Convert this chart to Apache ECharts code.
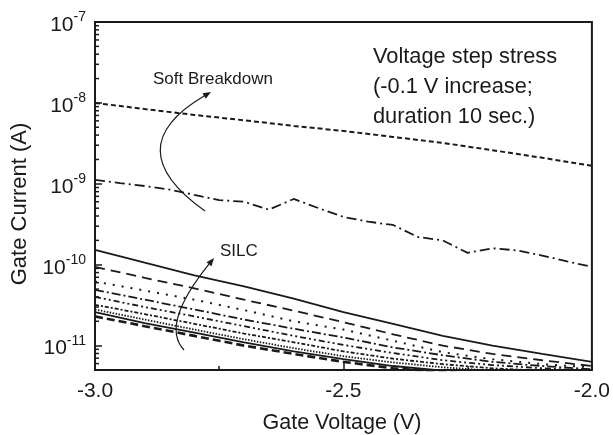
<!DOCTYPE html>
<html>
<head>
<meta charset="utf-8">
<script src="https://cdn.jsdelivr.net/npm/echarts@6/dist/echarts.min.js"></script>
<style>
  html, body { margin: 0; padding: 0; background: #fff; }
  #chart { width: 613px; height: 435px; }
</style>
</head>
<body>
<div id="chart"></div>
<script>
// Gate voltage grids (V)
const voltageCoarse = [-3.0, -2.9, -2.8, -2.7, -2.6, -2.5, -2.4, -2.3, -2.2, -2.1, -2.0];
const voltageFine = [-3.0, -2.95, -2.9, -2.85, -2.8, -2.75, -2.7, -2.65, -2.6, -2.55, -2.5,
                     -2.45, -2.4, -2.35, -2.3, -2.25, -2.2, -2.15, -2.1, -2.05, -2.0];

// Gate current (A) after soft breakdown
const sbdShortDash = [1.0e-8, 8.4e-9, 7.1e-9, 6.1e-9, 5.2e-9, 4.5e-9, 3.8e-9, 3.2e-9, 2.6e-9, 2.1e-9, 1.67e-9];
const sbdDashDot = [1.12e-9, 1.02e-9, 9.4e-10, 8.5e-10, 7.3e-10, 6.3e-10, 6.0e-10, 4.8e-10, 6.5e-10, 5.0e-10, 3.9e-10,
                    3.4e-10, 3.1e-10, 2.2e-10, 2.0e-10, 1.4e-10, 1.6e-10, 1.5e-10, 1.3e-10, 1.1e-10, 9.4e-11];

// Gate current (A) during the SILC stress steps
const silc1 = [1.53e-10, 1.06e-10, 7.4e-11, 5.4e-11, 3.8e-11, 2.6e-11, 1.86e-11, 1.32e-11, 1.0e-11, 7.9e-12, 6.3e-12];
const silc2 = [9.4e-11, 6.9e-11, 5.1e-11, 3.7e-11, 2.7e-11, 1.95e-11, 1.38e-11, 1.0e-11, 7.9e-12, 6.6e-12, 5.6e-12];
const silc3 = [6.2e-11, 4.8e-11, 3.7e-11, 2.75e-11, 2.0e-11, 1.58e-11, 1.15e-11, 8.3e-12, 6.8e-12, 5.9e-12, 5.4e-12];
const silc4 = [4.9e-11, 3.7e-11, 2.8e-11, 2.1e-11, 1.62e-11, 1.26e-11, 9.5e-12, 7.6e-12, 6.3e-12, 5.6e-12, 5.1e-12];
const silc5 = [4.0e-11, 3.0e-11, 2.3e-11, 1.74e-11, 1.32e-11, 1.02e-11, 8.1e-12, 6.6e-12, 5.75e-12, 5.25e-12, 4.9e-12];
const silc6 = [3.2e-11, 2.45e-11, 1.86e-11, 1.41e-11, 1.1e-11, 8.5e-12, 6.9e-12, 5.9e-12, 5.25e-12, 4.9e-12, 4.7e-12];
const silc7 = [2.8e-11, 2.1e-11, 1.58e-11, 1.2e-11, 9.3e-12, 7.4e-12, 6.2e-12, 5.4e-12, 4.9e-12, 4.7e-12, 4.5e-12];
const silc8 = [2.6e-11, 1.9e-11, 1.45e-11, 1.1e-11, 8.5e-12, 6.8e-12, 5.6e-12, 4.9e-12, 4.5e-12, 4.3e-12, 4.1e-12];
const silc9 = [2.3e-11, 1.74e-11, 1.32e-11, 1.0e-11, 7.9e-12, 6.3e-12, 5.25e-12, 4.7e-12, 4.3e-12, 4.1e-12, 3.9e-12];

// Minor tick positions on the log current axis (2..9 of each decade)
const minorTickValues = [6e-12, 7e-12, 8e-12, 9e-12];
[-11, -10, -9, -8].forEach(function (e) {
  for (let k = 2; k <= 9; k++) minorTickValues.push(k * Math.pow(10, e));
});

const INK = '#1a1a1a';
const FONT = 'Arial, "Liberation Sans", Helvetica, sans-serif';

function pairs(xs, ys) {
  return xs.map(function (x, i) { return [x, ys[i]]; });
}

function curve(xs, ys, dash, width) {
  return {
    type: 'line',
    data: pairs(xs, ys),
    showSymbol: false,
    symbol: 'none',
    silent: true,
    animation: false,
    clip: true,
    lineStyle: { color: INK, width: width || 1.6, type: dash || 'solid' }
  };
}

const chart = echarts.init(document.getElementById('chart'), null, { renderer: 'canvas' });

const option = {
  backgroundColor: '#fff',
  animation: false,
  grid: {
    left: 95, right: 21, top: 22, bottom: 65,
    show: true, borderColor: INK, borderWidth: 2, backgroundColor: 'transparent'
  },
  xAxis: {
    type: 'value',
    min: -3.0, max: -2.0, interval: 0.5,
    axisLine: { show: true, lineStyle: { color: INK, width: 2 } },
    axisTick: { show: true, inside: true, length: 7, lineStyle: { color: INK, width: 1.5 } },
    minorTick: { show: true, splitNumber: 2, length: 4, lineStyle: { color: INK, width: 1.5 } },
    splitLine: { show: false },
    axisLabel: {
      margin: 11, color: INK, fontSize: 21, fontFamily: FONT,
      formatter: function (v) { return v.toFixed(1); }
    }
  },
  yAxis: {
    type: 'log', logBase: 10,
    min: 5e-12, max: 1e-7,
    axisLine: { show: true, lineStyle: { color: INK, width: 2 } },
    axisTick: { show: true, inside: true, length: 7, lineStyle: { color: INK, width: 1.5 } },
    splitLine: { show: false },
    axisLabel: {
      margin: 9, color: INK,
      formatter: function (v) {
        const e = Math.log10(v);
        const r = Math.round(e);
        if (Math.abs(e - r) > 1e-6) return '';
        return '{b|10}{s|' + r + '}';
      },
      rich: {
        b: { fontSize: 21, fontFamily: FONT, color: INK, padding: [6, 0, 0, 0] },
        s: { fontSize: 14, fontFamily: FONT, color: INK, padding: [0, 0, 10, 0] }
      }
    }
  },
  series: [
    curve(voltageCoarse, sbdShortDash, [5, 3], 2),
    curve(voltageFine, sbdDashDot, [10, 4, 2, 4], 1.8),
    curve(voltageCoarse, silc1, 'solid', 1.8),
    curve(voltageCoarse, silc2, [10, 6], 1.8),
    curve(voltageCoarse, silc3, [2, 7], 2),
    curve(voltageCoarse, silc4, [9, 3, 2, 3], 1.8),
    curve(voltageCoarse, silc5, [6, 3, 2, 3, 2, 3], 1.8),
    curve(voltageCoarse, silc6, [4, 2, 2, 2], 1.8),
    curve(voltageCoarse, silc7, [1.5, 1.5], 1.8),
    curve(voltageCoarse, silc8, 'solid', 1.8),
    curve(voltageCoarse, silc9, [8, 4], 2.6),
    {
      // minor ticks of the logarithmic current axis
      type: 'custom',
      silent: true,
      animation: false,
      clip: false,
      data: minorTickValues.map(function (v) { return [-3.0, v]; }),
      encode: { x: 0, y: 1 },
      renderItem: function (params, api) {
        const p = api.coord([api.value(0), api.value(1)]);
        return {
          type: 'line',
          shape: { x1: p[0], y1: p[1], x2: p[0] + 4, y2: p[1] },
          style: { stroke: INK, lineWidth: 1.5 }
        };
      }
    }
  ]
};

chart.setOption(option);

// Annotation arrows: quadratic curves ending in a filled arrowhead
function arrow(p0, c, p2) {
  const dx = p2[0] - c[0], dy = p2[1] - c[1];
  const len = Math.sqrt(dx * dx + dy * dy);
  const ux = dx / len, uy = dy / len;
  const hl = 8, hw = 3.2;
  const bx = p2[0] - ux * hl, by = p2[1] - uy * hl;
  return [
    {
      type: 'bezierCurve', silent: true,
      shape: { x1: p0[0], y1: p0[1], cpx1: c[0], cpy1: c[1], x2: bx, y2: by },
      style: { stroke: INK, lineWidth: 1.2, fill: null }
    },
    {
      type: 'polygon', silent: true,
      shape: { points: [p2, [bx - uy * hw, by + ux * hw], [bx + uy * hw, by - ux * hw]] },
      style: { fill: INK }
    }
  ];
}

function label(text, x, y, size, extra) {
  return Object.assign({
    type: 'text', silent: true, x: x, y: y,
    style: { text: text, fill: INK, font: size + 'px ' + FONT, textVerticalAlign: 'middle', textAlign: 'left' }
  }, extra || {});
}

const graphics = []
  .concat(arrow([205, 211], [116, 148], [211, 92]))
  .concat(arrow([184, 350], [160, 325], [214, 258]))
  .concat([
    label('Soft Breakdown', 153, 79, 17),
    label('SILC', 220, 251, 17),
    label('Voltage step stress', 373, 57, 21.8),
    label('(-0.1 V increase;', 373, 87, 21.8),
    label('duration 10 sec.)', 373, 117, 21.8),
    {
      type: 'text', silent: true, x: 342, y: 423,
      style: { text: 'Gate Voltage (V)', fill: INK, font: '21.5px ' + FONT, textAlign: 'center', textVerticalAlign: 'middle' }
    },
    {
      type: 'text', silent: true, x: 20, y: 204, rotation: Math.PI / 2,
      style: { text: 'Gate Current (A)', fill: INK, font: '22px ' + FONT, textAlign: 'center', textVerticalAlign: 'middle' }
    }
  ]);

chart.setOption({ graphic: graphics });
</script>
</body>
</html>
